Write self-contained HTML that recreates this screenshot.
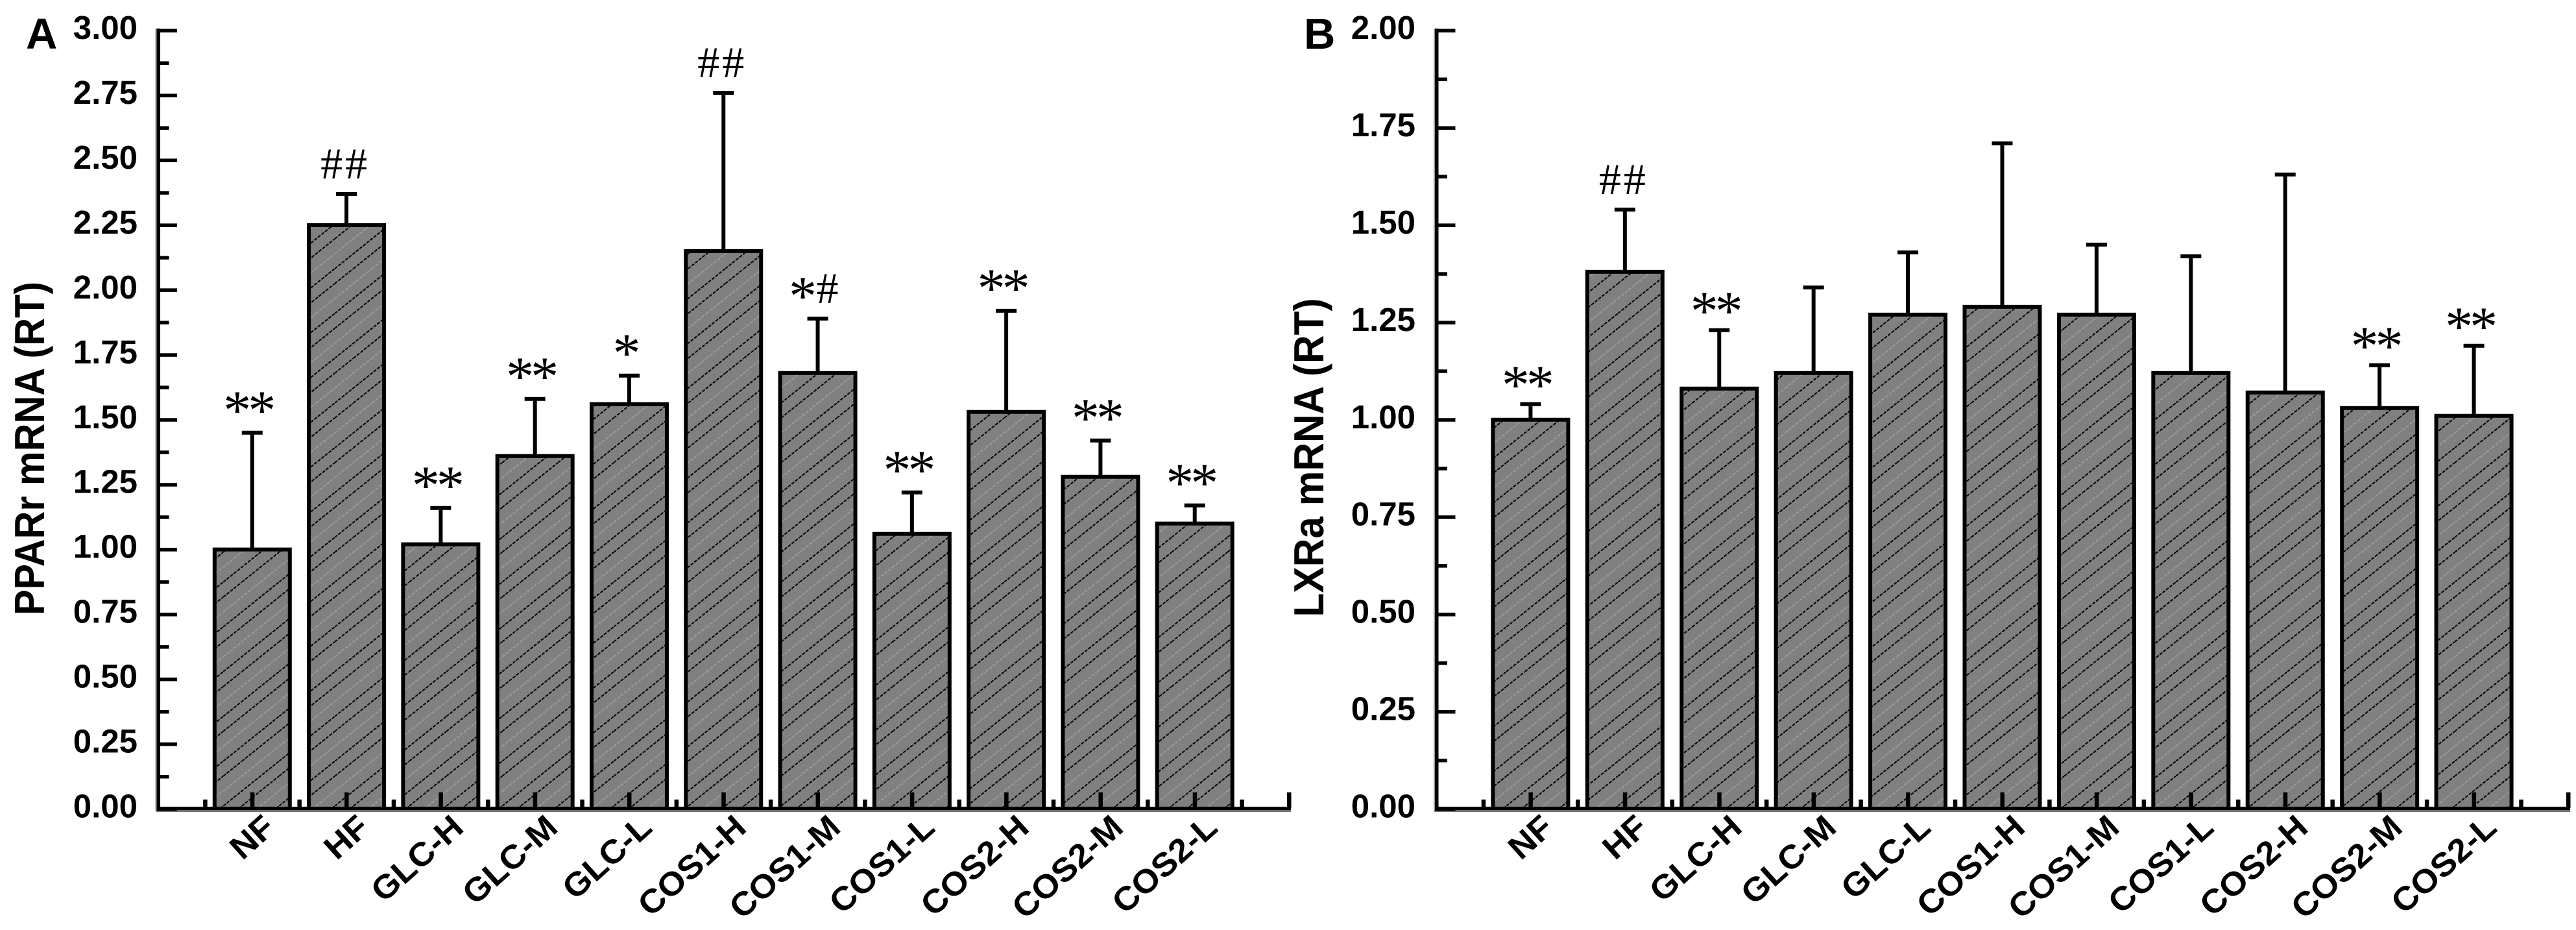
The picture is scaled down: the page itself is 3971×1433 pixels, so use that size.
<!DOCTYPE html>
<html lang="en">
<head>
<meta charset="utf-8">
<title>PPARr and LXRa mRNA bar charts</title>
<style>
html,body{margin:0;padding:0;background:#fff;}
svg{display:block;}
text{fill:#000;}
.tick-label{font:bold 51px "Liberation Sans",Arial,sans-serif;}
.cat-label{font:bold 51px "Liberation Sans",Arial,sans-serif;}
.axis-title{font:bold 65px "Liberation Sans",Arial,sans-serif;}
.panel-letter{font:bold 67px "Liberation Sans",Arial,sans-serif;}
.mark-glyph{font-family:"Liberation Serif","Times New Roman",serif;}
</style>
</head>
<body>
<svg id="figure" xmlns="http://www.w3.org/2000/svg" width="3971" height="1433" viewBox="0 0 3971 1433">
<defs>
<pattern id="hatch" patternUnits="userSpaceOnUse" width="86" height="69">
<rect width="86" height="69" fill="#808080"/>
<g fill="none" stroke-width="2" stroke-dasharray="5 2">
<line x1="0" y1="23" x2="28.7" y2="0" stroke="#000"/>
<line x1="0" y1="46" x2="57.3" y2="0" stroke="#9c9c9c"/>
<line x1="0" y1="69" x2="86" y2="0" stroke="#000"/>
<line x1="28.7" y1="69" x2="86" y2="23" stroke="#000"/>
<line x1="57.3" y1="69" x2="86" y2="46" stroke="#9c9c9c"/>
</g>
</pattern>
</defs>
</svg>
<script>
const categories = ['NF','HF','GLC-H','GLC-M','GLC-L','COS1-H','COS1-M','COS1-L','COS2-H','COS2-M','COS2-L'];

const ppargValues = [1.00,2.25,1.02,1.36,1.56,2.15,1.68,1.06,1.53,1.28,1.10];
const ppargErrorTops = [1.45,2.37,1.16,1.58,1.67,2.76,1.89,1.22,1.92,1.42,1.17];
const ppargMarks = ['**','##','**','**','*','##','*#','**','**','**','**'];
const ppargTicks = ['0.00','0.25','0.50','0.75','1.00','1.25','1.50','1.75','2.00','2.25','2.50','2.75','3.00'];

const lxrValues = [1.00,1.38,1.08,1.12,1.27,1.29,1.27,1.12,1.07,1.03,1.01];
const lxrErrorTops = [1.04,1.54,1.23,1.34,1.43,1.71,1.45,1.42,1.63,1.14,1.19];
const lxrMarks = ['**','##','**','','','','','','','**','**'];
const lxrTicks = ['0.00','0.25','0.50','0.75','1.00','1.25','1.50','1.75','2.00'];

const SVG_NS = 'http://www.w3.org/2000/svg';
const fig = document.getElementById('figure');

function make(tag, attrs, parent) {
  const el = document.createElementNS(SVG_NS, tag);
  for (const k in attrs) el.setAttribute(k, attrs[k]);
  parent.appendChild(el);
  return el;
}

function drawPanel(id, letter, letterX, title, titleX, titleY, titleScale, starGap, axisX, axisEnd, labelRight, yMax, ticks, values, tops, marks) {
  const yZero = 1246.5, yTop = 47;
  const slots = categories.length + 1;
  const xScale = i => axisX + (axisEnd - axisX) * (i + 1) / slots;
  const yScale = v => yZero - (yZero - yTop) * v / yMax;

  const g = make('g', {}, fig);
  
  

  const barW = 116;
  categories.forEach((c, i) => {
    const cx = xScale(i);
    const stem = make('line', {x1:cx, x2:cx, y1:yScale(values[i]), y2:yScale(tops[i]), stroke:'#000', 'stroke-width':6}, g);
    
    
    const cap = make('line', {x1:cx-16, x2:cx+16, y1:yScale(tops[i]), y2:yScale(tops[i]), stroke:'#000', 'stroke-width':6}, g);
    
    
    const bar = make('rect', {x:cx-barW/2, y:yScale(values[i]), width:barW, height:yZero-yScale(values[i]), fill:'url(#hatch)', stroke:'#000', 'stroke-width':6}, g);
    
    

    const chars = marks[i].split('');
    chars.forEach((ch, j) => {
      const gx = cx - 4 + (j - (chars.length - 1) / 2) * 38;
      const isStar = ch === '*';
      const gy = yScale(tops[i]) - (isStar ? starGap : 47);
      const fs = isStar ? 86 : 68;
      const m = make('text', {x:gx, y:gy + (isStar ? 0.47 : 0.34) * fs, 'text-anchor':'middle', 'font-size':fs, class:'mark-glyph'}, g);
      m.textContent = ch;
      
      
    });

    const lab = make('text', {x:0, y:0, 'text-anchor':'end', class:'cat-label', transform:'translate(' + (cx + 38) + ' 1279) rotate(-42) scale(1.05 1)'}, g);
    lab.textContent = c;
    
    
  });

  // x axis
  const xShadow = make('rect', {x:axisX-3, y:1247, width:axisEnd-axisX+6, height:4, fill:'#707070'}, g);
  
  
  const xAxis = make('rect', {x:axisX-3, y:1243, width:axisEnd-axisX+6, height:5, fill:'#000'}, g);
  
  
  for (let k = 0; k <= slots; k++) {
    const tx = axisX + (axisEnd - axisX) * k / slots;
    const major = make('rect', {x:tx-3, y:1221, width:6.5, height:24, fill:'#000'}, g);
    
    
    if (k < slots) {
      const mx = tx + (axisEnd - axisX) / slots / 2;
      const minor = make('rect', {x:mx-3, y:1232, width:6.5, height:13, fill:'#000'}, g);
      
      
    }
  }

  // y axis
  const yShadow = make('rect', {x:axisX-4, y:yTop-3, width:2.5, height:yZero-yTop+6, fill:'#999'}, g);
  
  
  const yAxis = make('rect', {x:axisX-2, y:yTop-3, width:5.5, height:yZero-yTop+6, fill:'#000'}, g);
  
  
  ticks.forEach((t, i) => {
    const v = parseFloat(t);
    const ty = yScale(v);
    const major = make('rect', {x:axisX, y:ty-2.5, width:29.5, height:5.5, fill:'#000'}, g);
    
    
    const lab = make('text', {x:labelRight, y:ty+13, 'text-anchor':'end', class:'tick-label'}, g);
    lab.textContent = t;
    
    
    if (i < ticks.length - 1) {
      const my = (ty + yScale(parseFloat(ticks[i + 1]))) / 2;
      const minor = make('rect', {x:axisX, y:my-2.5, width:17, height:5.5, fill:'#000'}, g);
      
      
    }
  });

  const tt = make('text', {x:0, y:0, 'text-anchor':'middle', class:'axis-title', transform:'translate(' + titleX + ' ' + titleY + ') rotate(-90) scale(' + titleScale + ' 1)'}, g);
  tt.textContent = title;
  
  

  const pl = make('text', {x:letterX, y:75, class:'panel-letter'}, g);
  pl.textContent = letter;
  
  
}

drawPanel('pparg', 'A', 40, 'PPARr mRNA (RT)', 68, 691, 0.913, 46, 243.5, 1987, 212, 3, ppargTicks, ppargValues, ppargErrorTops, ppargMarks);
drawPanel('lxra', 'B', 2010, 'LXRa mRNA (RT)', 2040, 705, 0.93, 41, 2214, 3959, 2182, 2, lxrTicks, lxrValues, lxrErrorTops, lxrMarks);
</script>
</body>
</html>
